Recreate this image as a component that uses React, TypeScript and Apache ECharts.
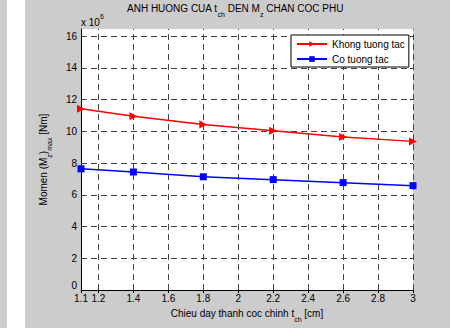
import React, { useEffect, useRef } from "react";
import * as echarts from "echarts";

const xValues = [1.1, 1.4, 1.8, 2.2, 2.6, 3.0];
const khongTuongTac = [11.42, 10.96, 10.44, 10.04, 9.64, 9.37];
const coTuongTac = [7.64, 7.44, 7.14, 6.96, 6.77, 6.58];
const xTicks = [1.1, 1.2, 1.4, 1.6, 1.8, 2, 2.2, 2.4, 2.6, 2.8, 3];
const yTicks = [0, 2, 4, 6, 8, 10, 12, 14, 16];
const xGridLines = [1.2, 1.4, 1.6, 1.8, 2, 2.2, 2.4, 2.6, 2.8, 3];
const yGridLines = [2, 4, 6, 8, 10, 12, 14, 16];
const seriesNames = ["Khong tuong tac", "Co tuong tac"];

const FONT = "Liberation Sans, Arial, sans-serif";

export default function App() {
  const ref = useRef<HTMLDivElement>(null);
  useEffect(() => {
    if (!ref.current) return;
    const chart = echarts.init(ref.current, undefined, { renderer: "svg" });
    const subRich = {
      base: { fontSize: 10, fontFamily: FONT, fontWeight: "normal", color: "#000", lineHeight: 15, verticalAlign: "top" },
      sub: { fontSize: 7, fontFamily: FONT, fontWeight: "normal", color: "#000", lineHeight: 15, verticalAlign: "bottom" },
    };
    const supRich = {
      base: { fontSize: 10, fontFamily: FONT, fontWeight: "normal", color: "#000", lineHeight: 14, verticalAlign: "bottom" },
      sup: { fontSize: 7, fontFamily: FONT, fontWeight: "normal", color: "#000", lineHeight: 14, verticalAlign: "top" },
    };
    const gridLineStyle = { type: [6, 4] as any, color: "#404040", width: 1 };
    chart.setOption({
      animation: false,
      backgroundColor: "#cccccc",
      graphic: [
        { type: "rect", left: 7, top: 0, shape: { width: 18, height: 328 }, style: { fill: "#ffffff" }, silent: true },
      ],
      title: [
        {
          text: "{base|ANH HUONG CUA t}{sub|ch}{base| DEN M}{sub|z}{base| CHAN COC PHU}",
          left: 127,
          top: 3,
          padding: 0,
          textStyle: { fontWeight: "normal", rich: subRich },
        },
        {
          text: "{base|x 10}{sup|6}",
          left: 81,
          top: 13,
          padding: 0,
          textStyle: { fontWeight: "normal", rich: supRich },
        },
      ],
      legend: {
        data: seriesNames,
        orient: "vertical",
        left: 291,
        top: 35,
        z: 10,
        backgroundColor: "#ffffff",
        borderColor: "#000000",
        borderWidth: 1,
        borderRadius: 0,
        padding: [4, 4, 3, 5],
        itemWidth: 30,
        itemHeight: 7,
        itemGap: 5,
        textStyle: { fontSize: 10, fontFamily: FONT, color: "#000" },
      },
      grid: {
        left: 81,
        right: 37,
        top: 29,
        bottom: 36,
        show: true,
        backgroundColor: "#ffffff",
        borderWidth: 0,
      },
      xAxis: [
        {
          type: "value",
          min: 1.1,
          max: 3,
          name: "{base|Chieu day thanh coc chinh t}{sub|ch}{base| [cm]}",
          nameLocation: "middle",
          nameGap: 12,
          nameTextStyle: { rich: subRich },
          axisLine: { show: true, lineStyle: { color: "#000", width: 1 } },
          axisTick: { show: true, inside: true, length: 3, customValues: xTicks, lineStyle: { color: "#000" } },
          axisLabel: {
            customValues: xTicks,
            fontSize: 10,
            fontFamily: FONT,
            color: "#000",
            margin: 3,
            formatter: (v: number) => String(Math.round(v * 10) / 10),
          },
          splitLine: { show: false },
        },
        {
          type: "value",
          position: "top",
          min: 1.1,
          max: 3,
          axisLine: { show: false },
          axisTick: { show: true, inside: true, length: 3, customValues: xTicks, lineStyle: { color: "#000" } },
          axisLabel: { show: false },
          splitLine: { show: false },
        },
      ],
      yAxis: [
        {
          type: "value",
          min: 0,
          max: 16.45,
          name: "{base|Momen (M}{sub|z}{base|)}{sub|max}{base| [Nm]}",
          nameLocation: "middle",
          nameGap: 28,
          nameRotate: 90,
          nameTextStyle: { rich: subRich },
          axisLine: { show: true, lineStyle: { color: "#000", width: 1 } },
          axisTick: { show: true, inside: true, length: 3, customValues: yTicks, lineStyle: { color: "#000" } },
          axisLabel: {
            customValues: yTicks,
            fontSize: 10,
            fontFamily: FONT,
            color: "#000",
            margin: 4,
            formatter: (v: number) => (v === 0 ? "{zero|0}" : String(v)),
            rich: { zero: { fontSize: 10, fontFamily: FONT, color: "#000", padding: [0, 0, 9, 0] } },
          },
          splitLine: { show: false },
        },
        {
          type: "value",
          position: "right",
          min: 0,
          max: 16.45,
          axisLine: { show: false },
          axisTick: { show: true, inside: true, length: 3, customValues: yTicks, lineStyle: { color: "#000" } },
          axisLabel: { show: false },
          splitLine: { show: false },
        },
      ],
      series: [
        {
          type: "line",
          name: "grid",
          data: xValues.map((x, i) => [x, khongTuongTac[i]]),
          showSymbol: false,
          lineStyle: { opacity: 0 },
          z: 1,
          silent: true,
          markLine: {
            silent: true,
            z: 1,
            symbol: ["none", "none"],
            label: { show: false },
            lineStyle: gridLineStyle,
            data: [
              ...xGridLines.map((v) => ({ xAxis: v })),
              ...yGridLines.map((v) => ({ yAxis: v })),
            ],
          },
        },
        {
          type: "line",
          name: seriesNames[0],
          data: xValues.map((x, i) => [x, khongTuongTac[i]]),
          symbol: "path://M0,0 L10,5 L0,10 Z",
          symbolSize: 8,
          color: "#ff0000",
          lineStyle: { color: "#ff0000", width: 1.5 },
          itemStyle: { color: "#ff0000" },
          z: 3,
        },
        {
          type: "line",
          name: seriesNames[1],
          data: xValues.map((x, i) => [x, coTuongTac[i]]),
          symbol: "rect",
          symbolSize: 7,
          color: "#0000ff",
          lineStyle: { color: "#0000ff", width: 1.5 },
          itemStyle: { color: "#0000ff" },
          z: 3,
        },
      ],
    });
    return () => chart.dispose();
  }, []);
  return (
    <div
      ref={ref}
      style={{ position: "absolute", left: 0, top: 0, width: 450, height: 328 }}
    />
  );
}
